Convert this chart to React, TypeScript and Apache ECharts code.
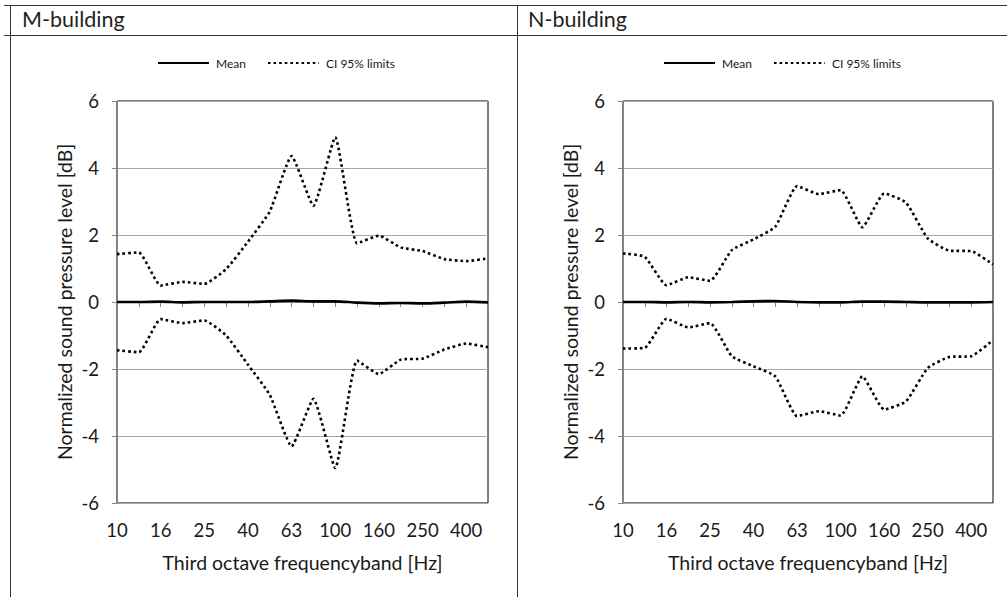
import React, { useEffect, useRef } from 'react';
import * as echarts from 'echarts';

// Third octave frequency bands [Hz]
const categories = ['10', '12.5', '16', '20', '25', '31.5', '40', '50', '63', '80', '100', '125', '160', '200', '250', '315', '400', '500'];

// M-building
const mMean = [0, 0, 0.01, -0.01, 0, 0, 0, 0.02, 0.04, 0.02, 0.02, -0.02, -0.04, -0.03, -0.04, -0.02, 0.01, -0.01];
const mUpper = [1.43, 1.48, 0.49, 0.6, 0.54, 0.98, 1.8, 2.7, 4.36, 2.87, 4.92, 1.75, 1.98, 1.63, 1.52, 1.28, 1.22, 1.3];
const mLower = [-1.44, -1.5, -0.51, -0.63, -0.55, -1.0, -1.87, -2.77, -4.31, -2.89, -4.96, -1.75, -2.15, -1.72, -1.69, -1.42, -1.24, -1.35];

// N-building
const nMean = [0, 0, -0.01, 0, -0.01, 0, 0.02, 0.03, 0, -0.01, -0.01, 0.01, 0.01, 0, -0.01, -0.01, -0.01, 0];
const nUpper = [1.45, 1.35, 0.5, 0.74, 0.63, 1.55, 1.87, 2.25, 3.46, 3.22, 3.34, 2.23, 3.24, 2.97, 1.9, 1.53, 1.52, 1.12];
const nLower = [-1.39, -1.37, -0.5, -0.76, -0.63, -1.62, -1.92, -2.22, -3.41, -3.26, -3.39, -2.22, -3.21, -2.97, -1.97, -1.64, -1.62, -1.14];

const panelTitles = ['M-building', 'N-building'];
const yMin = -6;
const yMax = 6;
const yInterval = 2;
const xAxisTitle = 'Third octave frequencyband [Hz]';
const yAxisTitle = 'Normalized sound pressure level [dB]';
const meanName = 'Mean';
const ciName = 'CI 95% limits';

const FONT = 'Lato, "Open Sans", sans-serif';
const AXIS_GRAY = '#868686';
const TEXT = '#1a1a1a';

export default function App() {
  const ref = useRef<HTMLDivElement>(null);

  useEffect(() => {
    document.body.style.margin = '0';
    const chart = echarts.init(ref.current as HTMLDivElement, null, { renderer: 'svg' });

    const grids = [
      { left: 117, top: 101, width: 371, height: 402 },
      { left: 623, top: 101, width: 370, height: 402 },
    ];

    const xAxes = grids.map((_, i) => ({
      type: 'category',
      gridIndex: i,
      data: categories,
      boundaryGap: false,
      axisLine: { show: true, lineStyle: { color: AXIS_GRAY, width: 1 } },
      axisTick: { show: true, interval: 0, length: 5, lineStyle: { color: AXIS_GRAY } },
      axisLabel: { interval: 1, fontSize: 18.5, margin: 17, color: TEXT, fontFamily: FONT },
      splitLine: { show: false },
      name: xAxisTitle,
      nameLocation: 'middle',
      nameGap: 49,
      nameTextStyle: { fontSize: 19.5, color: TEXT, fontFamily: FONT },
    }));

    const yAxes = grids.map((_, i) => ({
      type: 'value',
      gridIndex: i,
      min: yMin,
      max: yMax,
      interval: yInterval,
      axisLine: { show: true, lineStyle: { color: AXIS_GRAY, width: 1 } },
      axisTick: { show: true, length: 5, lineStyle: { color: AXIS_GRAY } },
      axisLabel: { fontSize: 18.5, margin: 18, color: TEXT, fontFamily: FONT },
      splitLine: { show: true, lineStyle: { color: '#a6a6a6', width: 1 } },
      name: yAxisTitle,
      nameLocation: 'middle',
      nameGap: 43,
      nameRotate: 90,
      nameTextStyle: { fontSize: 19.5, color: TEXT, fontFamily: FONT },
    }));

    const dotted = { color: '#000', width: 2.6, type: [2.6, 3] as number[] };
    const makeSeries = (i: number, mean: number[], upper: number[], lower: number[]) => [
      {
        name: ciName, type: 'line', xAxisIndex: i, yAxisIndex: i, data: upper,
        symbol: 'none', smooth: 0.15, lineStyle: dotted, itemStyle: { color: '#000' }, z: 3,
      },
      {
        name: ciName, type: 'line', xAxisIndex: i, yAxisIndex: i, data: lower,
        symbol: 'none', smooth: 0.15, lineStyle: dotted, itemStyle: { color: '#000' }, z: 3,
      },
      {
        name: meanName, type: 'line', xAxisIndex: i, yAxisIndex: i, data: mean,
        symbol: 'none', smooth: 0.3, lineStyle: { color: '#000', width: 2.6, type: 'solid' },
        itemStyle: { color: '#000' }, z: 4,
      },
    ];

    const legendBase = {
      orient: 'horizontal',
      top: 52,
      itemWidth: 51,
      itemHeight: 14,
      itemGap: 21,
      selectedMode: false,
      itemStyle: { opacity: 0, borderWidth: 0 },
      lineStyle: { opacity: 1 },
      data: [meanName, ciName],
      textStyle: { fontSize: 12, color: TEXT, fontFamily: FONT, padding: [0, 0, 0, 2] },
    };

    const lineColor = '#333';
    const graphic = [
      { type: 'line', shape: { x1: 4, y1: 5.5, x2: 1007, y2: 5.5 }, style: { stroke: lineColor, lineWidth: 1 } },
      { type: 'line', shape: { x1: 4, y1: 35.5, x2: 1007, y2: 35.5 }, style: { stroke: lineColor, lineWidth: 1 } },
      { type: 'line', shape: { x1: 10.5, y1: 5, x2: 10.5, y2: 597 }, style: { stroke: lineColor, lineWidth: 1 } },
      { type: 'line', shape: { x1: 517.5, y1: 5, x2: 517.5, y2: 597 }, style: { stroke: lineColor, lineWidth: 1 } },
      { type: 'text', left: 22, top: 8, style: { text: panelTitles[0], fontSize: 21.5, fill: '#1f1f1f', fontFamily: FONT } },
      { type: 'text', left: 528, top: 8, style: { text: panelTitles[1], fontSize: 21.5, fill: '#1f1f1f', fontFamily: FONT } },
    ];

    chart.setOption({
      animation: false,
      backgroundColor: '#fff',
      textStyle: { fontFamily: FONT },
      grid: grids.map((g) => ({ ...g, show: true, borderColor: '#000', borderWidth: 1, backgroundColor: 'transparent', containLabel: false })),
      xAxis: xAxes,
      yAxis: yAxes,
      legend: [
        { ...legendBase, left: 152 },
        { ...legendBase, left: 658 },
      ],
      graphic,
      series: [
        ...makeSeries(0, mMean, mUpper, mLower),
        ...makeSeries(1, nMean, nUpper, nLower),
      ],
    });

    return () => chart.dispose();
  }, []);

  return <div ref={ref} style={{ width: 1007, height: 597, background: '#fff' }} />;
}
